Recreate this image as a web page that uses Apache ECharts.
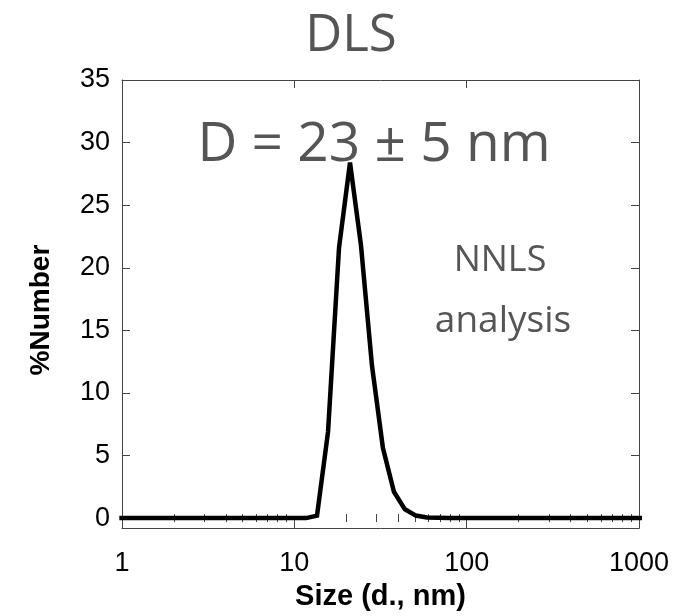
<!DOCTYPE html>
<html>
<head>
<meta charset="utf-8">
<script src="https://cdn.jsdelivr.net/npm/echarts@6/dist/echarts.min.js"></script>
<style>
  html, body { margin: 0; padding: 0; background: #fff; }
  #chart { width: 677px; height: 616px; }
</style>
</head>
<body>
<div id="chart"></div>
<script>
// Size bins (d., nm) of the DLS distribution
const sizes = [0.9649, 1.117, 1.294, 1.499, 1.736, 2.01, 2.328, 2.696, 3.122, 3.615, 4.187, 4.849,
  5.615, 6.503, 7.531, 8.721, 10.1, 11.7, 13.54, 15.69, 18.17, 21.04, 24.36, 28.21, 32.67,
  37.84, 43.82, 50.75, 58.77, 68.06, 78.82, 91.28, 105.7, 122.4, 141.8, 164.2, 190.1, 220.2,
  255.0, 295.3, 342.0, 396.1, 458.7, 531.2, 615.1, 712.4, 825.0, 955.4, 1106];
// %Number for each size bin (NNLS analysis)
const percentNumber = [0, 0, 0, 0, 0, 0, 0, 0, 0, 0, 0, 0,
  0, 0, 0, 0, 0, 0, 0.2, 6.9, 21.6, 28.4, 21.8, 12.2, 5.6,
  2.1, 0.7, 0.2, 0.05, 0.02, 0, 0, 0, 0, 0, 0, 0, 0,
  0, 0, 0, 0, 0, 0, 0, 0, 0, 0, 0];

const yTickValues = [0, 5, 10, 15, 20, 25, 30, 35];
const xMajorTicks = [1, 10, 100, 1000];
const xMinorTicks = [2, 3, 4, 5, 6, 7, 8, 9, 20, 30, 40, 50, 60, 70, 80, 90,
  200, 300, 400, 500, 600, 700, 800, 900];

const titleText = 'DLS';
const resultText = 'D = 23 \u00B1 5 nm';
const methodText = ['NNLS', 'analysis'];
const xName = 'Size (d., nm)';
const yName = '%Number';

const X_MIN = 1, X_MAX = 1000, Y_MIN = -0.8, Y_MAX = 35;
const frameColor = '#444';
const calloutColor = '#555';

const chart = echarts.init(document.getElementById('chart'), null, { renderer: 'canvas' });

function logAxis(position, opts) {
  return Object.assign({
    type: 'log', logBase: 10, min: X_MIN, max: X_MAX, position: position,
    axisLine: { show: true, onZero: false, lineStyle: { color: frameColor, width: 1 } },
    axisLabel: { show: false },
    splitLine: { show: false },
    minorTick: { show: false },
    minorSplitLine: { show: false }
  }, opts);
}

function calloutText(text, x, y, size) {
  return {
    type: 'text', z: 5,
    style: {
      text: text, x: x, y: y, textAlign: 'center', textVerticalAlign: 'top',
      fontFamily: 'Open Sans', fontSize: size, fill: calloutColor
    }
  };
}

const option = {
  animation: false,
  backgroundColor: '#fff',
  title: {
    text: titleText,
    left: 346, top: 6, textAlign: 'center',
    textStyle: { fontFamily: 'Open Sans', fontWeight: 'normal', fontSize: 51, color: calloutColor }
  },
  grid: { left: 122, right: 38, top: 80, bottom: 86, containLabel: false },
  xAxis: [
    logAxis('bottom', {
      name: xName, nameLocation: 'middle', nameGap: 50,
      nameTextStyle: { fontFamily: 'Liberation Sans', fontWeight: 'bold', fontSize: 29, color: '#000' },
      axisTick: { show: true, inside: true, length: 8, lineStyle: { color: frameColor }, customValues: xMajorTicks },
      axisLabel: {
        show: true, customValues: xMajorTicks, margin: 22,
        fontFamily: 'Liberation Sans', fontSize: 27, color: '#000',
        formatter: v => String(Math.round(v))
      }
    }),
    logAxis('bottom', {
      axisLine: { show: false },
      axisTick: { show: true, inside: true, length: 4, lineStyle: { color: frameColor }, customValues: xMinorTicks }
    }),
    logAxis('top', {
      axisTick: { show: true, inside: true, length: 8, lineStyle: { color: frameColor }, customValues: xMajorTicks }
    }),
    logAxis('top', {
      axisLine: { show: false },
      axisTick: { show: true, inside: true, length: 4, lineStyle: { color: frameColor }, customValues: xMinorTicks }
    })
  ],
  yAxis: [
    {
      type: 'value', min: Y_MIN, max: Y_MAX, position: 'left',
      name: yName, nameLocation: 'middle', nameGap: 67, nameRotate: 90,
      nameTextStyle: {
        fontFamily: 'Liberation Sans', fontWeight: 'bold', fontSize: 28, color: '#000',
        padding: [0, 12, 0, 0]
      },
      axisLine: { show: true, onZero: false, lineStyle: { color: frameColor, width: 1 } },
      axisTick: { show: true, inside: true, length: 8, lineStyle: { color: frameColor }, customValues: yTickValues },
      axisLabel: {
        show: true, customValues: yTickValues, margin: 12,
        fontFamily: 'Liberation Sans', fontSize: 27, color: '#000'
      },
      splitLine: { show: false }
    },
    {
      type: 'value', min: Y_MIN, max: Y_MAX, position: 'right',
      axisLine: { show: true, onZero: false, lineStyle: { color: frameColor, width: 1 } },
      axisTick: { show: true, inside: true, length: 8, lineStyle: { color: frameColor }, customValues: yTickValues },
      axisLabel: { show: false },
      splitLine: { show: false }
    }
  ],
  graphic: [
    calloutText(resultText, 374, 118, 55),
    calloutText(methodText[0], 500, 243, 36),
    calloutText(methodText[1], 503, 303, 37)
  ],
  series: [
    {
      type: 'line',
      xAxisIndex: 0, yAxisIndex: 0,
      data: sizes.map((s, i) => [s, percentNumber[i]]),
      showSymbol: false, symbol: 'none',
      clip: true,
      lineStyle: { color: '#000', width: 4.5, join: 'miter', miterLimit: 2 },
      z: 3
    }
  ]
};

chart.setOption(option);
</script>
</body>
</html>
